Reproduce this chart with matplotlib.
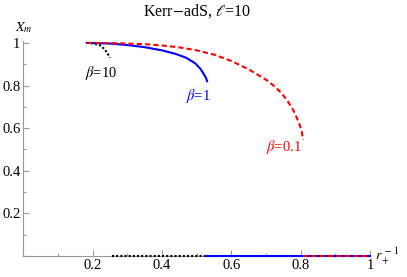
import numpy as np
import matplotlib
matplotlib.use("Agg")
import matplotlib.pyplot as plt
from matplotlib.ticker import MultipleLocator, FuncFormatter

plt.rcParams['font.family'] = ['Liberation Serif', 'DejaVu Serif']
plt.rcParams['mathtext.fontset'] = 'stix'

# beta = 0.1 (red dashed)
x_red = [0.183, 0.25, 0.3, 0.35, 0.4, 0.45, 0.5, 0.55, 0.6, 0.65, 0.7, 0.72, 0.74,
         0.76, 0.78, 0.795, 0.803, 0.807]
y_red = [1.0, 0.999, 0.997, 0.994, 0.988, 0.979, 0.965, 0.945, 0.915, 0.876, 0.827, 0.802,
         0.772, 0.733, 0.68, 0.625, 0.585, 0.545]
# beta = 1 (blue solid)
x_blue = [0.183, 0.25, 0.3, 0.35, 0.4, 0.44, 0.47, 0.495, 0.51, 0.52, 0.527, 0.53]
y_blue = [1.0, 0.997, 0.99, 0.98, 0.965, 0.948, 0.93, 0.905, 0.88, 0.855, 0.835, 0.82]
# beta = 10 (black dotted)
x_black = [0.183, 0.2, 0.22, 0.235, 0.245, 0.25]
y_black = [1.0, 0.998, 0.99, 0.97, 0.945, 0.93]

# zero branches
zero_black = [0.255, 0.53]
zero_blue = [0.53, 1.0]
zero_red = [0.807, 1.0]

fig = plt.figure(figsize=(4.07, 2.77), dpi=100)
ax = fig.add_axes([0.0573, 0.0758, 0.852, 0.777])

lw = 1.5
ax.plot(x_black, y_black, color='black', lw=lw, dashes=(1, 1), clip_on=False)
ax.plot(zero_black, [0, 0], color='black', lw=lw, dashes=(1, 1), clip_on=False, zorder=3)
ax.plot(x_blue, y_blue, color='#0000ff', lw=lw, clip_on=False)
ax.plot(zero_blue, [0, 0], color='#0000ff', lw=lw, clip_on=False, zorder=3)
ax.plot(x_red, y_red, color='#ff0000', lw=lw, dashes=(2.5, 1.5), clip_on=False)
ax.plot(zero_red, [0, 0], color='#ff0000', lw=lw, dashes=(2.5, 1.5), clip_on=False, zorder=4)

ax.set_xlim(0, 1.0)
ax.set_ylim(0, 1.01)

for s in ['top', 'right']:
    ax.spines[s].set_visible(False)
for s in ['left', 'bottom']:
    ax.spines[s].set_color('#999999')
    ax.spines[s].set_linewidth(0.8)

def fmt(v, pos):
    if abs(v) < 1e-9:
        return ''
    if abs(v - 1) < 1e-9:
        return '1'
    return '%.1f' % v

ax.xaxis.set_major_locator(MultipleLocator(0.2))
ax.xaxis.set_minor_locator(MultipleLocator(0.1))
ax.yaxis.set_major_locator(MultipleLocator(0.2))
ax.yaxis.set_minor_locator(MultipleLocator(0.1))
ax.xaxis.set_major_formatter(FuncFormatter(fmt))
ax.yaxis.set_major_formatter(FuncFormatter(fmt))
ax.tick_params(which='both', direction='in', color='#999999', labelsize=10.5, width=0.8)
ax.tick_params(which='major', length=4, pad=2)
ax.tick_params(which='minor', length=2.5)

ax.text(0.5, 1.14, r'Kerr$-$adS, $\ell$=10', transform=ax.transAxes,
        ha='center', va='center', fontsize=11.5)
ax.text(0.002, 1.06, r'$X_m$', transform=ax.transAxes, ha='center', va='center', fontsize=10)
ax.text(1.015, 0.0, r'$r_+^{\ -1}$', transform=ax.transAxes, ha='left', va='center', fontsize=10)

ax.text(0.223, 0.86, r'$\beta$=10', ha='center', va='center', fontsize=10.5, color='black')
ax.text(0.505, 0.75, r'$\beta$=1', ha='center', va='center', fontsize=10.5, color='#0000ff')
ax.text(0.75, 0.51, r'$\beta$=0.1', ha='center', va='center', fontsize=10.5, color='#ff0000')

fig.savefig('out.png', dpi=100)
